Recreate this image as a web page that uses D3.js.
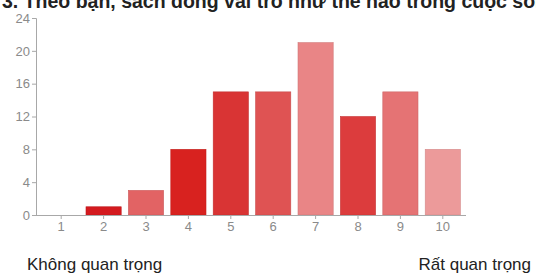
<!DOCTYPE html>
<html>
  <head>
    <meta charset="utf-8">
    <title>Sach dong vai tro</title>
    <script src="https://cdn.jsdelivr.net/npm/d3@7"></script>
    <style>
      body { margin: 0; background: #fff; }
      .title { font-family: 'Liberation Sans', Arial, sans-serif; font-size: 19.5px; font-weight: bold; fill: #222; }
      .axis text { font-family: 'Liberation Sans', Arial, sans-serif; font-size: 13px; fill: #8a8a8a; }
      .axis path, .axis line { stroke: #a8a8a8; }
      .end_label { font-family: 'Liberation Sans', Arial, sans-serif; font-size: 17px; fill: #222; }
    </style>
  </head>
  <body>
    <script>
      // data
      var scores = ['1', '2', '3', '4', '5', '6', '7', '8', '9', '10'];
      var counts = [0, 1, 3, 8, 15, 15, 21, 12, 15, 8];
      var barColors = ['#d41a1f', '#d41a1f', '#e26364', '#d8221f', '#d93434', '#df5353',
                       '#e98586', '#dc3c3d', '#e57374', '#ec9a9a'];
      var yTicks = [0, 4, 8, 12, 16, 20, 24];

      var width = 536, height = 278;

      var svg = d3.select("body").append("svg")
        .attr("width", width)
        .attr("height", height);

      var xScale = d3.scaleBand()
        .domain(scores)
        .range([40, 464])
        .paddingInner(0.17)
        .paddingOuter(0.085);

      var yScale = d3.scaleLinear()
        .domain([0, 24])
        .range([215, 18]);

      // title, cut off at the top like the screenshot
      svg.append("text")
        .attr("class", "title")
        .attr("x", 2)
        .attr("y", 8)
        .text("3. Theo bạn, sách đóng vai trò như thế nào trong cuộc sống?");

      // bars
      svg.selectAll(".bar")
        .data(counts)
        .enter()
        .append("rect")
        .attr("class", "bar")
        .attr("x", function(d, i) { return xScale(scores[i]); })
        .attr("y", function(d) { return yScale(d); })
        .attr("width", xScale.bandwidth())
        .attr("height", function(d) { return yScale(0) - yScale(d); })
        .style("fill", function(d, i) { return barColors[i]; })
        .style("stroke", function(d, i) { return d3.color(barColors[i]).darker(0.3); })
        .style("stroke-width", 0.6)
        .style("display", function(d) { return d > 0 ? null : "none"; });

      // y axis
      svg.append("g")
        .attr("class", "axis")
        .attr("transform", "translate(36,0)")
        .call(d3.axisLeft(yScale).tickValues(yTicks).tickSize(4).tickSizeOuter(4).tickPadding(2));

      // x axis
      var xAxis = svg.append("g")
        .attr("class", "axis")
        .attr("transform", "translate(0,215)")
        .call(d3.axisBottom(xScale).tickSize(4).tickSizeOuter(0).tickPadding(3));
      xAxis.select(".domain").attr("d", "M36,0.5H466");

      // end labels
      svg.append("text")
        .attr("class", "end_label")
        .attr("x", 27)
        .attr("y", 270)
        .text("Không quan trọng");
      svg.append("text")
        .attr("class", "end_label")
        .attr("x", 531)
        .attr("y", 270)
        .attr("text-anchor", "end")
        .text("Rất quan trọng");
    </script>
  </body>
</html>
